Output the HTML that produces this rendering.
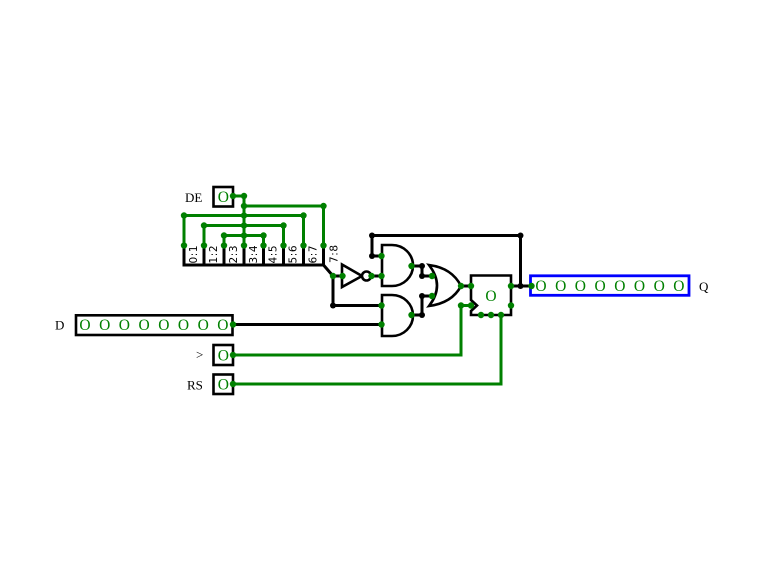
<!DOCTYPE html>
<html><head><meta charset="utf-8"><style>
html,body{margin:0;padding:0;background:#fff;}
svg{display:block;}
.t{font-family:"Liberation Serif",serif;}
.lbl{font-family:"DejaVu Sans","Liberation Sans",sans-serif;font-size:10.5px;fill:#000;letter-spacing:0.6px;}
</style></head><body>
<svg width="762" height="578" viewBox="0 0 762 578" xmlns="http://www.w3.org/2000/svg">
<rect width="762" height="578" fill="#fff"/>
<!-- green wires -->
<g stroke="#008000" stroke-width="3" fill="none" stroke-linecap="square">
<path d="M233,196H244V245.5"/>
<path d="M244,206H323.5V245.5"/>
<path d="M184,245.5V215.5H303.5V245.5"/>
<path d="M204,245.5V225.5H283.5V245.5"/>
<path d="M224,245.5V235.5H263.5V245.5"/>
<path d="M233,355H461V305.5H471"/>
<path d="M233,384H501V315"/>
</g>
<!-- black wires -->
<g stroke="#000" stroke-width="3" fill="none">
<path d="M182.5,265H323.5L333,276H342" />
<path d="M184,245.5V265M204,245.5V265M224,245.5V265M244,245.5V265M263.5,245.5V265M283.5,245.5V265M303.5,245.5V265M323.5,245.5V265"/>
<path d="M333,276V305.5H382"/>
<path d="M371.5,276H382"/>
<path d="M233,324.5H382"/>
<path d="M382,256H372V235.5H520.5V286"/>
<path d="M412,266H422V276H432"/>
<path d="M412,315H422V296H432"/>
<path d="M461,286H471"/>
<path d="M511,286H531"/>
</g>
<!-- gates -->
<g stroke="#000" stroke-width="2.6" fill="#fff">
<path d="M382,245H392A21,20.5 0 0 1 392,286H382Z"/>
<path d="M382,295H392A21,20.5 0 0 1 392,336H382Z"/>
<path d="M429,265Q445,285.5 429,306Q452,303 461,286Q452,268 429,265Z"/>
<path d="M342,264.5L342,287L362,276Z"/>
<circle cx="366.5" cy="276" r="4.5"/>
<path d="M471,275.5H511V315H471V311L477,305.5L471,300Z"/>
</g>
<!-- boxes -->
<g fill="#fff" stroke="#000" stroke-width="2.6">
<rect x="213.5" y="187" width="19.5" height="19.5"/>
<rect x="76" y="315.3" width="156.5" height="19.7"/>
<rect x="213.5" y="345" width="19.5" height="20"/>
<rect x="213.5" y="374.5" width="19.5" height="19.5"/>
</g>
<rect x="530.5" y="275.8" width="158.5" height="19.5" fill="#fff" stroke="#0000ff" stroke-width="2.8"/>
<!-- green values -->
<g class="t" fill="#008000" font-size="15.5" text-anchor="middle">
<text x="223.3" y="202">O</text>
<text x="223.3" y="360.5">O</text>
<text x="223.3" y="389.5">O</text>
<text x="491" y="301">O</text>
<text x="85" y="330">O</text><text x="104.7" y="330">O</text><text x="124.4" y="330">O</text><text x="144.1" y="330">O</text><text x="163.8" y="330">O</text><text x="183.5" y="330">O</text><text x="203.2" y="330">O</text><text x="222.9" y="330">O</text>
<text x="541" y="291">O</text><text x="560.7" y="291">O</text><text x="580.4" y="291">O</text><text x="600.1" y="291">O</text><text x="619.8" y="291">O</text><text x="639.5" y="291">O</text><text x="659.2" y="291">O</text><text x="678.9" y="291">O</text>
</g>
<!-- labels -->
<g class="t" fill="#000" font-size="13">
<text x="185" y="202">DE</text>
<text x="55" y="329.5">D</text>
<text x="196" y="359">&gt;</text>
<text x="187" y="389.5">RS</text>
<text x="699" y="291">Q</text>
</g>
<g class="lbl">
<text transform="translate(197,263.5) rotate(-90)">0:1</text>
<text transform="translate(217,263.5) rotate(-90)">1:2</text>
<text transform="translate(237,263.5) rotate(-90)">2:3</text>
<text transform="translate(257,263.5) rotate(-90)">3:4</text>
<text transform="translate(276.5,263.5) rotate(-90)">4:5</text>
<text transform="translate(296.5,263.5) rotate(-90)">5:6</text>
<text transform="translate(316.5,263.5) rotate(-90)">6:7</text>
<text transform="translate(337.5,263) rotate(-90)">7:8</text>
</g>
<!-- green dots -->
<g fill="#008000">
<circle cx="233" cy="196" r="3.2"/><circle cx="244" cy="196" r="3.2"/><circle cx="244" cy="206" r="3.2"/><circle cx="244" cy="215.5" r="3.2"/><circle cx="244" cy="225.5" r="3.2"/><circle cx="244" cy="235.5" r="3.2"/>
<circle cx="323.5" cy="206" r="3.2"/><circle cx="184" cy="215.5" r="3.2"/><circle cx="303.5" cy="215.5" r="3.2"/><circle cx="204" cy="225.5" r="3.2"/><circle cx="283.5" cy="225.5" r="3.2"/><circle cx="224" cy="235.5" r="3.2"/><circle cx="263.5" cy="235.5" r="3.2"/>
<circle cx="184" cy="245.5" r="3.2"/><circle cx="204" cy="245.5" r="3.2"/><circle cx="224" cy="245.5" r="3.2"/><circle cx="244" cy="245.5" r="3.2"/><circle cx="263.5" cy="245.5" r="3.2"/><circle cx="283.5" cy="245.5" r="3.2"/><circle cx="303.5" cy="245.5" r="3.2"/><circle cx="323.5" cy="245.5" r="3.2"/>
<circle cx="333" cy="276" r="3.2"/><circle cx="342.5" cy="276" r="3.2"/><circle cx="371.5" cy="276" r="3.2"/><circle cx="381.5" cy="276" r="3.2"/><circle cx="381.5" cy="256" r="3.2"/><circle cx="411.5" cy="266" r="3.2"/>
<circle cx="381.5" cy="305.5" r="3.2"/><circle cx="381.5" cy="324.5" r="3.2"/><circle cx="411.5" cy="315" r="3.2"/>
<circle cx="432" cy="276" r="3.2"/><circle cx="432" cy="296" r="3.2"/><circle cx="461" cy="286" r="3.2"/><circle cx="471" cy="286" r="3.2"/><circle cx="461" cy="305.5" r="3.2"/><circle cx="471" cy="305.5" r="3.2"/>
<circle cx="481" cy="315" r="3.2"/><circle cx="491" cy="315" r="3.2"/><circle cx="501" cy="315" r="3.2"/><circle cx="511" cy="286" r="3.2"/><circle cx="511" cy="305.5" r="3.2"/><circle cx="531.5" cy="286" r="3.2"/>
<circle cx="233" cy="324.5" r="3.2"/><circle cx="233" cy="355" r="3.2"/><circle cx="233" cy="384" r="3.2"/>
</g>
<!-- black dots -->
<g fill="#000">
<circle cx="372" cy="235.5" r="3"/><circle cx="372" cy="256" r="3"/><circle cx="422" cy="266" r="3"/><circle cx="422" cy="276" r="3"/><circle cx="422" cy="296" r="3"/><circle cx="422" cy="315" r="3"/><circle cx="333" cy="305.5" r="3"/><circle cx="520.5" cy="235.5" r="3"/><circle cx="520.5" cy="286" r="3"/>
</g>
</svg>
</body></html>
